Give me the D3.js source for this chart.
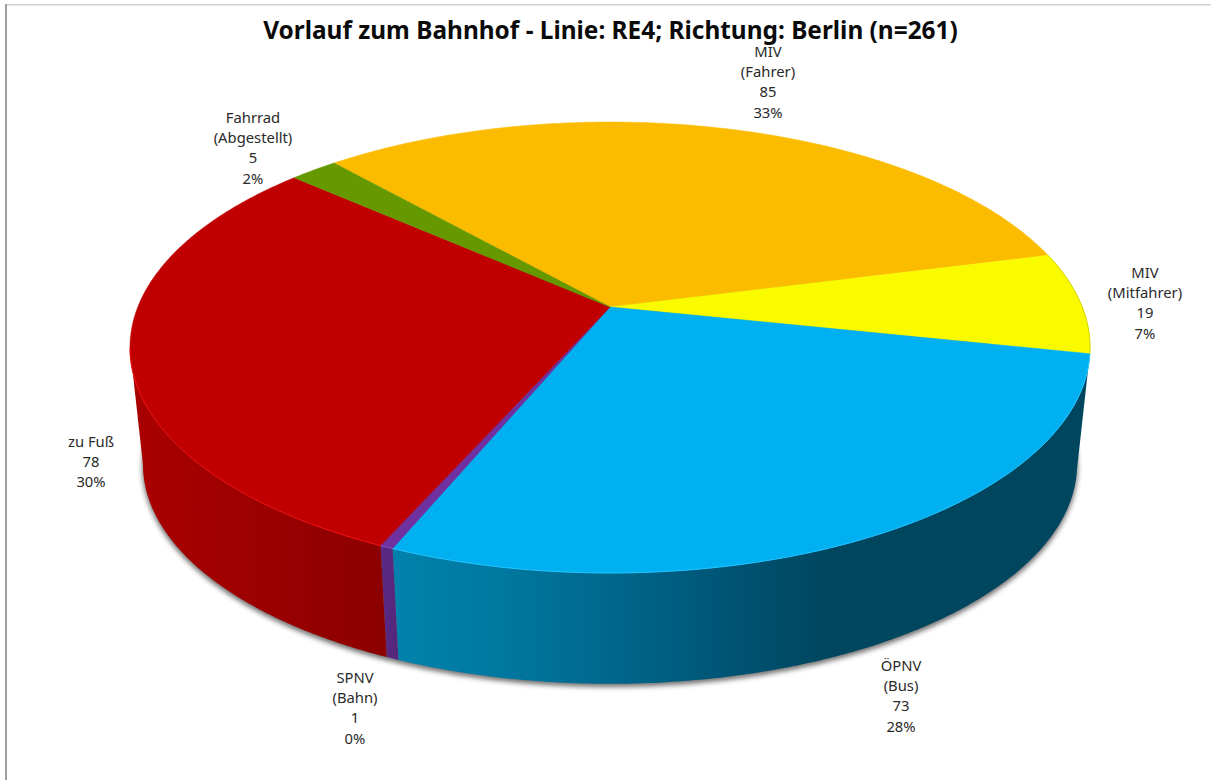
<!DOCTYPE html>
<html lang="de">
<head>
<meta charset="utf-8">
<script src="https://cdn.jsdelivr.net/npm/d3@7"></script>
<style>
html,body{margin:0;padding:0;background:#fff;overflow:hidden}
svg{display:block}
text{font-family:"Noto Sans",sans-serif;fill:#2a2a2a}
</style>
</head>
<body>
<svg id="c" width="1211" height="780"></svg>
<script>
const titleText = "Vorlauf zum Bahnhof - Linie: RE4; Richtung: Berlin (n=261)";
const categories = ["MIV (Fahrer)", "MIV (Mitfahrer)", "ÖPNV (Bus)", "SPNV (Bahn)", "zu Fuß", "Fahrrad (Abgestellt)"];
const values = [85, 19, 73, 1, 78, 5];
const percentLabels = ["33%", "7%", "28%", "0%", "30%", "2%"];
const labelLines = [["MIV","(Fahrer)"],["MIV","(Mitfahrer)"],["ÖPNV","(Bus)"],["SPNV","(Bahn)"],["zu Fuß"],["Fahrrad","(Abgestellt)"]];
const topColors = ["#fbbc00","#fbfb00","#00b0f0","#7030a0","#c00000","#669900"];
const rimColors = ["#fbbc00","#d2d200","#22c4ff","#8a4cc0","#f01010","#669900"];

// layout
const labelCenters = [[768,52],[1145,273],[901,666],[355,678],[91,442],[253,118]];
const W = 1211, H = 780, LINE = 20.2;
const cx = 610, cy = 307, A = 472.2, B = 218.2, K = 0.1796;
const lowerScale = 0.973, lowerDy = 118;
const rad = d => d * Math.PI / 180;
const startDeg = -41.55;

const svg = d3.select("#c");
const defs = svg.append("defs");

// perspective projection of the unit disc onto the screen
function project(theta, lower) {
  const u = Math.sin(theta), v = Math.cos(theta), w = 1 + K * v;
  const s = lower ? lowerScale : 1, dy = lower ? lowerDy : 0;
  return [cx + s * A * u / w, cy + dy - s * B * v / w];
}
const sample = (a, b) => {
  const n = Math.max(2, Math.ceil(Math.abs(b - a) / rad(0.5)));
  return d3.range(n + 1).map(i => a + (b - a) * i / n);
};
const line = d3.line();

const slices = d3.pie().sort(null).startAngle(rad(startDeg)).endAngle(rad(startDeg + 360)).value(d => d)(values);

// gradients on the side wall
function gradient(id, stops) {
  const g = defs.append("linearGradient").attr("id", id).attr("gradientUnits", "userSpaceOnUse")
    .attr("x1", stops[0][0]).attr("x2", stops[stops.length - 1][0]).attr("y1", 0).attr("y2", 0);
  const xs = d3.scaleLinear().domain([stops[0][0], stops[stops.length - 1][0]]).range([0, 1]);
  stops.forEach(s => g.append("stop").attr("offset", xs(s[0])).attr("stop-color", s[1]));
}
gradient("wall2", [[395,"#0082ac"],[500,"#0078a0"],[620,"#00668a"],[740,"#005272"],[830,"#00465f"],[1090,"#00465f"]]);
gradient("wall3", [[380,"#5a2a84"],[400,"#54267a"]]);
gradient("wall4", [[135,"#a90000"],[250,"#9c0000"],[385,"#8c0000"]]);

const filter = defs.append("filter").attr("id", "shadow")
  .attr("x", "-5%").attr("y", "-5%").attr("width", "110%").attr("height", "110%");
filter.append("feGaussianBlur").attr("stdDeviation", 2.6);

// frame
svg.append("rect").attr("x", 5).attr("y", 4).attr("width", W).attr("height", 1.5).attr("fill", "#d2d2d2");
svg.append("rect").attr("x", 5).attr("y", 4).attr("width", 2).attr("height", H).attr("fill", "#a0a0a0");

// soft shadow below the lower rim
const lowerRim = sample(0, 2 * Math.PI).map(t => project(t, true));
svg.append("path").attr("d", line(lowerRim) + "Z")
  .attr("transform", "translate(0,2.5)")
  .attr("fill", "#444").attr("opacity", 0.75).attr("stroke", "#444").attr("stroke-width", 1.5)
  .attr("filter", "url(#shadow)");

// side walls: only the part of each slice that faces the camera
const visA = Math.acos(-K), visB = 2 * Math.PI - visA;
slices.forEach((d, i) => {
  const a = Math.max(d.startAngle, visA), b = Math.min(d.endAngle, visB);
  if (a >= b) return;
  const ts = sample(a, b);
  const pts = ts.map(t => project(t, false)).concat(ts.slice().reverse().map(t => project(t, true)));
  svg.append("path").attr("d", line(pts) + "Z").attr("fill", `url(#wall${i})`);
});

// top face
slices.forEach((d, i) => {
  const pts = [[cx, cy]].concat(sample(d.startAngle, d.endAngle).map(t => project(t, false)));
  svg.append("path").attr("d", line(pts) + "Z").attr("fill", topColors[i])
    .attr("stroke", topColors[i]).attr("stroke-width", 0.5);
});
// rim highlight, on the camera-facing edge and the yellow slice
slices.forEach((d, i) => {
  const a = i === 1 ? d.startAngle : Math.max(d.startAngle, visA);
  const b = i === 1 ? d.endAngle : Math.min(d.endAngle, visB);
  if (a >= b) return;
  svg.append("path").attr("d", line(sample(a, b).map(t => project(t, false))))
    .attr("fill", "none").attr("stroke", rimColors[i]).attr("stroke-width", 1);
});

// title
svg.append("text").attr("x", 610.5).attr("y", 38.5).attr("text-anchor", "middle")
  .attr("font-size", 24.4).attr("font-weight", 700).style("fill", "#0a0a0a").text(titleText);

// labels
categories.forEach((name, i) => {
  const lines = labelLines[i].concat([String(values[i]), percentLabels[i]]);
  const t = svg.append("text").attr("text-anchor", "middle").attr("font-size", 14.8).attr("aria-label", name);
  lines.forEach((s, j) => t.append("tspan").attr("x", labelCenters[i][0])
    .attr("y", labelCenters[i][1] + 5 + j * LINE).text(s));
});
</script>
</body>
</html>
